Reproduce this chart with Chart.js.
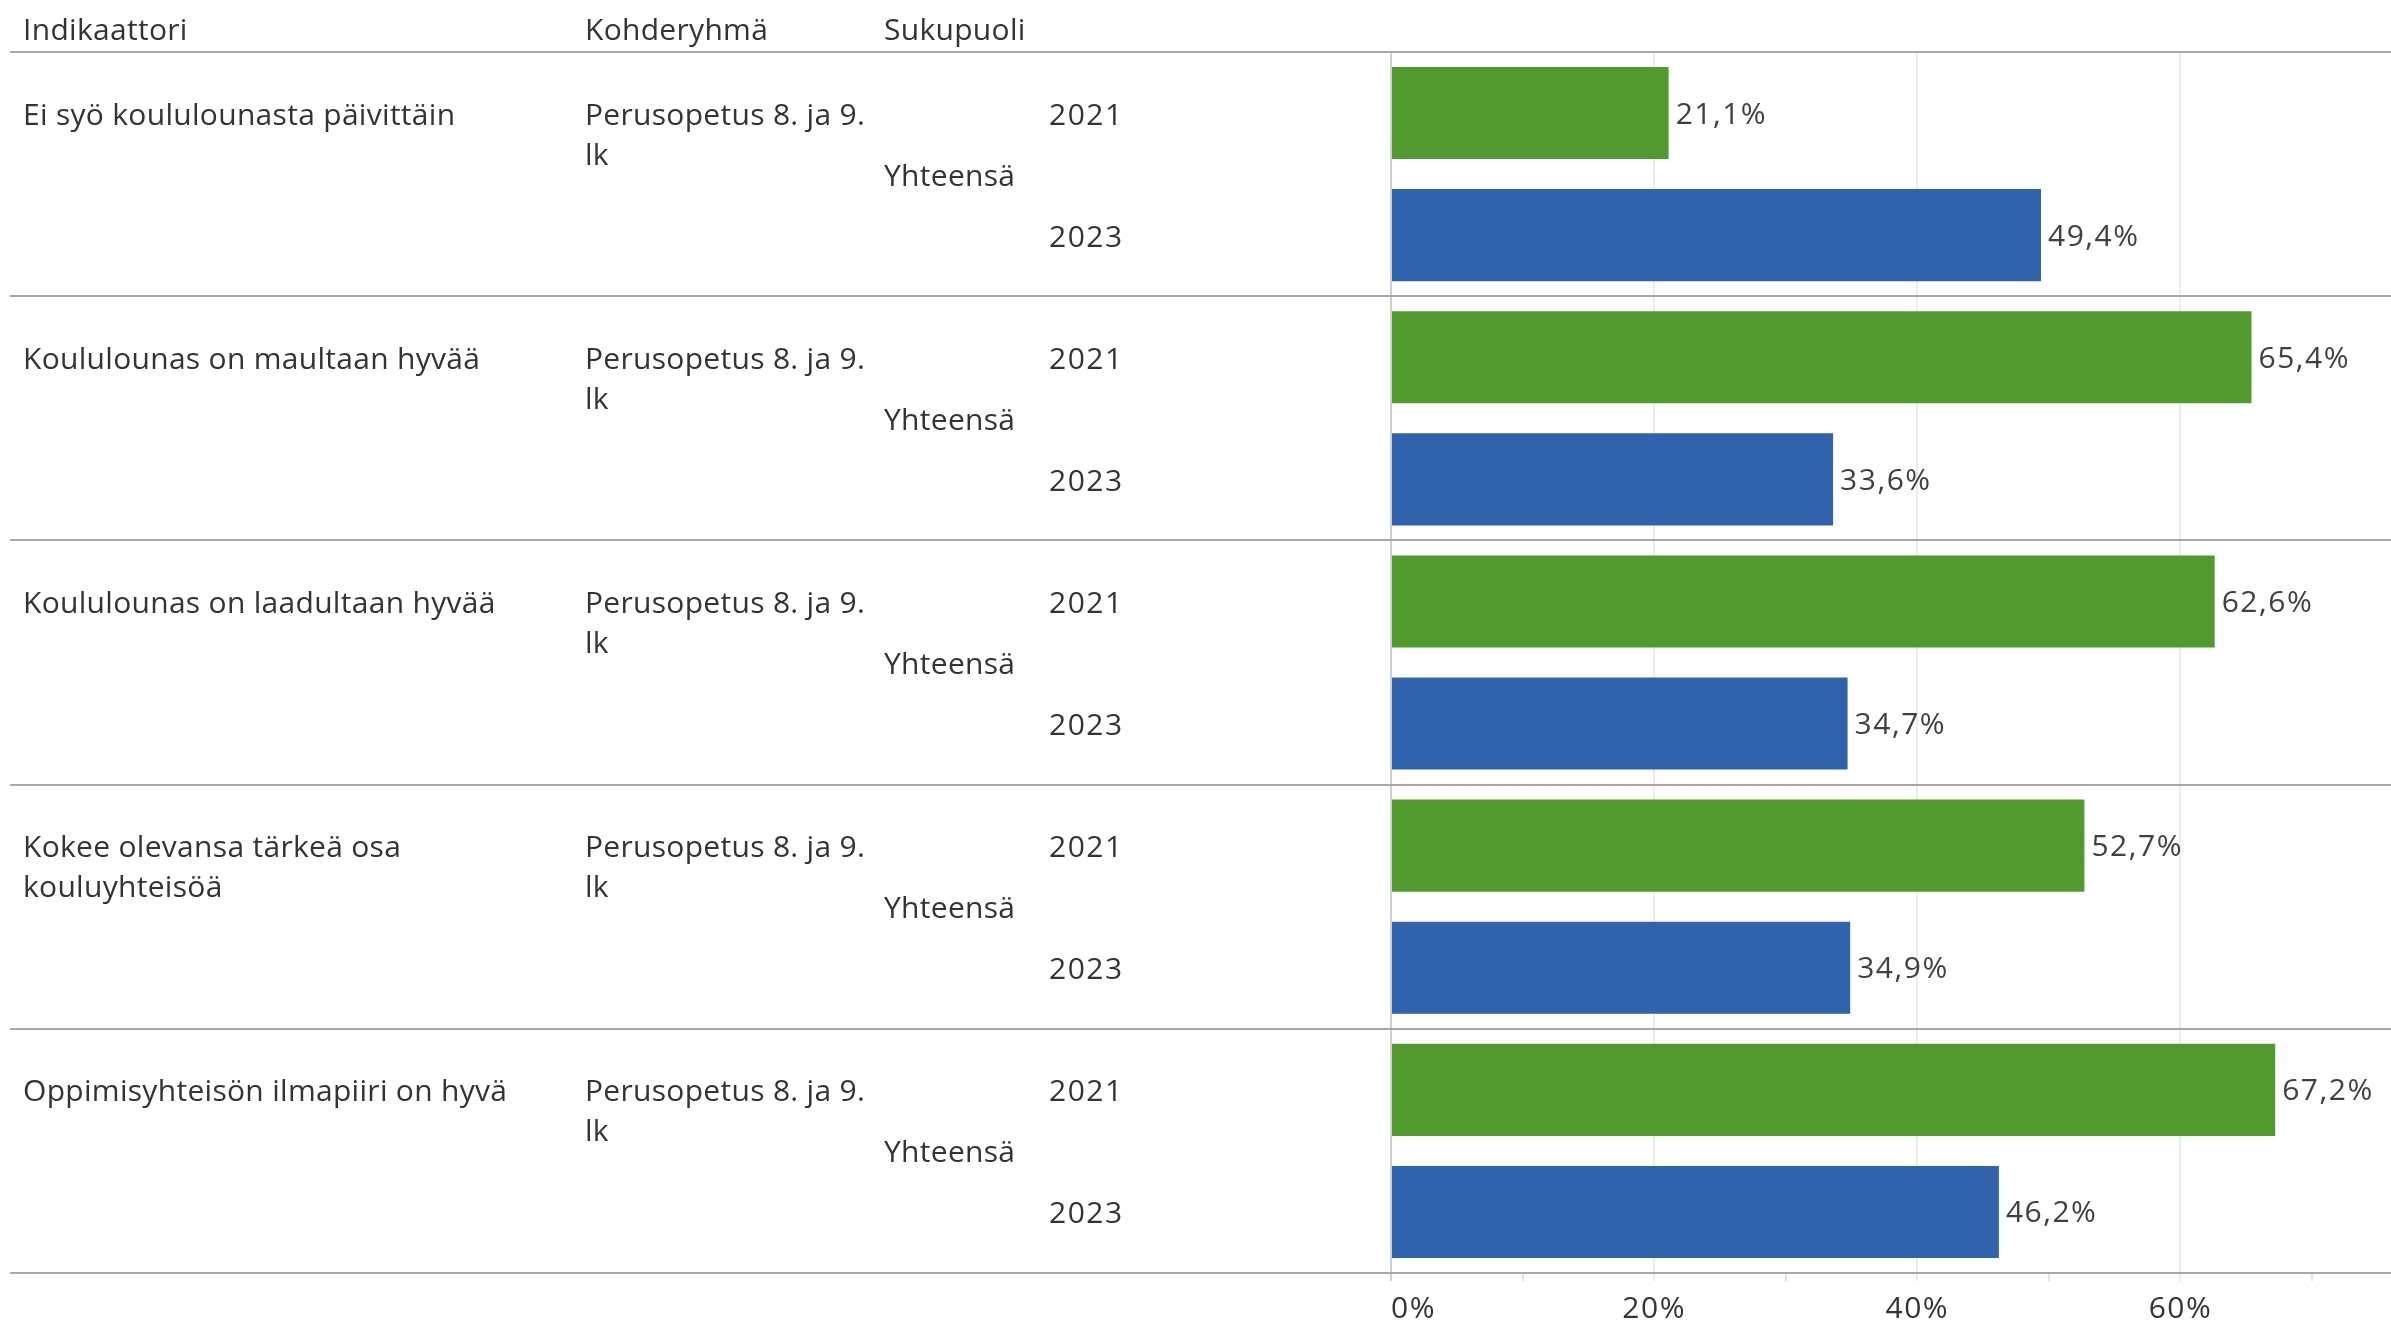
<!DOCTYPE html>
<html>
<head>
<meta charset="utf-8">
<script src="https://cdn.jsdelivr.net/npm/chart.js@4.4.1/dist/chart.umd.min.js"></script>
<style>
html,body{margin:0;padding:0;background:#fff;overflow:hidden}
#wrap{position:relative;width:2391px;height:1323px}
</style>
</head>
<body>
<div id="wrap"><canvas id="c" width="2391" height="1323"></canvas></div>
<script>
// ---- data ----
const headers = ['Indikaattori', 'Kohderyhmä', 'Sukupuoli'];
const indicators = [
  ['Ei syö koululounasta päivittäin'],
  ['Koululounas on maultaan hyvää'],
  ['Koululounas on laadultaan hyvää'],
  ['Kokee olevansa tärkeä osa', 'kouluyhteisöä'],
  ['Oppimisyhteisön ilmapiiri on hyvä']
];
const targetGroup = ['Perusopetus 8. ja 9.', 'lk'];
const genderLabel = 'Yhteensä';
const years = ['2021', '2023'];
const values2021 = [21.1, 65.4, 62.6, 52.7, 67.2];
const values2023 = [49.4, 33.6, 34.7, 34.9, 46.2];
const xTickValues = [0, 10, 20, 30, 40, 50, 60, 70];
const xLabelledTicks = [0, 20, 40, 60];

// ---- styling ----
const FONT = 'Open Sans';
const FS = 30;
const TXT = '#333333';
const TEXT_SPACING = '0.3px';
const NUM_SPACING = '1.5px';
const colors = { '2021': '#529A30', '2023': '#3063AC' };

const labels = [];
const values = [];
const barColors = [];
indicators.forEach((_, k) => {
  labels.push(years[0]); values.push(values2021[k]); barColors.push(colors[years[0]]);
  labels.push(years[1]); values.push(values2023[k]); barColors.push(colors[years[1]]);
});

const fmt = v => v.toFixed(1).replace('.', ',') + '%';

const tablePlugin = {
  id: 'tablePlugin',
  beforeDraw(chart) {
    chart.ctx.letterSpacing = NUM_SPACING;
    const items = chart.scales.x.getLabelItems();
    if (items.length) {
      items[0].options.textAlign = 'left';
    }
  },
  beforeDatasetsDraw(chart) {
    const { ctx, scales: { y } } = chart;
    const half = (y.getPixelForValue(1) - y.getPixelForValue(0)) / 2;
    ctx.save();
    ctx.strokeStyle = '#a8a8a8';
    ctx.lineWidth = 2;
    for (let k = 0; k <= indicators.length; k++) {
      const yy = k < indicators.length ? y.getPixelForValue(2 * k) - half : y.getPixelForValue(2 * k - 1) + half;
      ctx.beginPath();
      ctx.moveTo(10, Math.round(yy));
      ctx.lineTo(chart.width, Math.round(yy));
      ctx.stroke();
    }
    ctx.restore();
  },
  afterDatasetsDraw(chart) {
    const { ctx } = chart;
    const meta = chart.getDatasetMeta(0);
    ctx.save();
    ctx.font = FS + 'px "' + FONT + '"';
    ctx.letterSpacing = NUM_SPACING;
    ctx.fillStyle = '#404040';
    ctx.textBaseline = 'middle';
    ctx.textAlign = 'left';
    meta.data.forEach((bar, i) => {
      ctx.fillText(fmt(values[i]), bar.x + 7, bar.y + 2);
    });
    ctx.restore();
  },
  afterDraw(chart) {
    const { ctx, chartArea, scales: { y } } = chart;
    const colX = [23, 585, 884];
    const lineH = 40;
    const dy = 3;
    ctx.save();
    ctx.font = FS + 'px "' + FONT + '"';
    ctx.letterSpacing = TEXT_SPACING;
    ctx.fillStyle = TXT;
    ctx.textBaseline = 'middle';
    ctx.textAlign = 'left';
    headers.forEach((h, i) => ctx.fillText(h, colX[i], chartArea.top - 21));
    indicators.forEach((lines, k) => {
      const y0 = y.getPixelForValue(2 * k) + dy;
      const y1 = y.getPixelForValue(2 * k + 1) + dy;
      lines.forEach((ln, j) => ctx.fillText(ln, colX[0], y0 + j * lineH));
      targetGroup.forEach((ln, j) => ctx.fillText(ln, colX[1], y0 + j * lineH));
      ctx.fillText(genderLabel, colX[2], (y0 + y1) / 2);
    });
    ctx.restore();
  }
};

new Chart(document.getElementById('c'), {
  type: 'bar',
  data: {
    labels: labels,
    datasets: [{
      data: values,
      backgroundColor: barColors,
      borderWidth: 0,
      barPercentage: 0.754,
      categoryPercentage: 1
    }]
  },
  options: {
    indexAxis: 'y',
    responsive: false,
    animation: false,
    devicePixelRatio: 1,
    layout: { padding: { left: 1049, top: 52, right: 0, bottom: 0 } },
    plugins: { legend: { display: false }, tooltip: { enabled: false } },
    scales: {
      x: {
        type: 'linear',
        position: 'bottom',
        min: 0,
        max: 76,
        afterBuildTicks: s => { s.ticks = xTickValues.map(v => ({ value: v })); },
        afterFit: s => { s.height = 50; },
        border: { display: false },
        grid: {
          lineWidth: 2,
          tickLength: 8,
          color: c => c.tick.value === 0 ? '#cfcfcf' : (xLabelledTicks.includes(c.tick.value) ? '#ececec' : 'rgba(0,0,0,0)'),
          tickColor: c => c.tick.value === 0 ? '#cfcfcf' : (xLabelledTicks.includes(c.tick.value) ? '#ececec' : '#e2e2e2')
        },
        ticks: {
          autoSkip: false,
          maxRotation: 0,
          padding: 10,
          color: TXT,
          font: { family: FONT, size: FS },
          callback: v => xLabelledTicks.includes(v) ? v + '%' : ''
        }
      },
      y: {
        type: 'category',
        afterFit: s => { s.width = 342; },
        border: { display: false },
        grid: { display: false, drawTicks: false },
        ticks: {
          autoSkip: false,
          crossAlign: 'far',
          padding: 0,
          labelOffset: 3,
          color: TXT,
          font: { family: FONT, size: FS }
        }
      }
    }
  },
  plugins: [tablePlugin]
});
</script>
</body>
</html>
